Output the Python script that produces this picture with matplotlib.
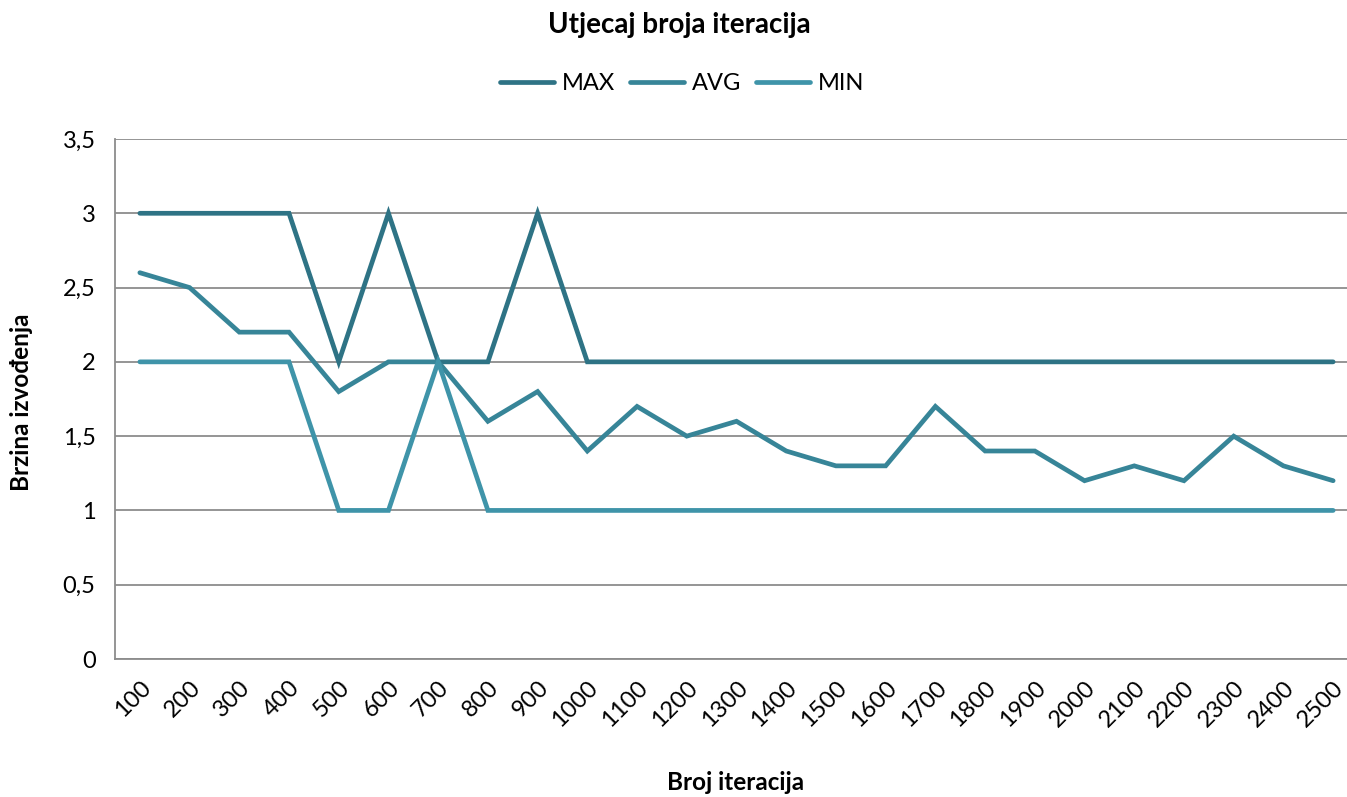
import matplotlib.pyplot as plt
from matplotlib.ticker import FuncFormatter

plt.rcParams['font.family'] = ['Lato', 'DejaVu Sans']

iterations = [100, 200, 300, 400, 500, 600, 700, 800, 900, 1000, 1100, 1200, 1300,
              1400, 1500, 1600, 1700, 1800, 1900, 2000, 2100, 2200, 2300, 2400, 2500]
max_vals = [3, 3, 3, 3, 2, 3, 2, 2, 3, 2, 2, 2, 2, 2, 2, 2, 2, 2, 2, 2, 2, 2, 2, 2, 2]
avg_vals = [2.6, 2.5, 2.2, 2.2, 1.8, 2, 2, 1.6, 1.8, 1.4, 1.7, 1.5, 1.6,
            1.4, 1.3, 1.3, 1.7, 1.4, 1.4, 1.2, 1.3, 1.2, 1.5, 1.3, 1.2]
min_vals = [2, 2, 2, 2, 1, 1, 2, 1, 1, 1, 1, 1, 1, 1, 1, 1, 1, 1, 1, 1, 1, 1, 1, 1, 1]

series = [('MAX', max_vals, '#2E7385'), ('AVG', avg_vals, '#378598'), ('MIN', min_vals, '#3F94A9')]

fig = plt.figure(figsize=(13.47, 7.97), dpi=100)
ax = fig.add_axes([115 / 1347, 1 - 659 / 797, (1358 - 115) / 1347, (659 - 139) / 797])

x = list(range(len(iterations)))
for name, vals, col in series:
    ax.plot(x, vals, color=col, lw=3.4, label=name, solid_capstyle='round', solid_joinstyle='miter')

ax.set_xlim(-0.5, len(iterations) - 0.5)
ax.set_ylim(0, 3.5)
ax.set_yticks([0, 0.5, 1, 1.5, 2, 2.5, 3, 3.5])
ax.yaxis.set_major_formatter(FuncFormatter(lambda v, p: f'{v:g}'.replace('.', ',')))
ax.set_xticks(x)
ax.set_xticklabels([str(i) for i in iterations], rotation=45, ha='right', va='top',
                   rotation_mode='anchor', fontsize=17)
ax.tick_params(axis='x', length=0, pad=13)
ax.tick_params(axis='y', length=0, pad=14, labelsize=17)
ax.grid(True, axis='y', color='#8c8c8c', lw=1.3)
ax.set_axisbelow(True)
for s in ['top', 'right']:
    ax.spines[s].set_visible(False)
for s in ['left', 'bottom']:
    ax.spines[s].set_color('#8c8c8c')
    ax.spines[s].set_linewidth(1.3)

fig.text(679 / 1347, 1 - 25 / 797, 'Utjecaj broja iteracija', ha='center', va='center',
         fontsize=20, fontweight='bold')
fig.text(22 / 1347, 1 - 402 / 797, 'Brzina izvođenja', ha='center', va='center',
         rotation=90, fontsize=17.5, fontweight='bold')
fig.text(736 / 1347, 1 - 782 / 797, 'Broj iteracija', ha='center', va='center',
         fontsize=17.5, fontweight='bold')

fig.legend(loc='center', bbox_to_anchor=(682 / 1347, 1 - 84 / 797), ncol=3, frameon=False,
           fontsize=17, handlelength=2.3, columnspacing=0.65, handletextpad=0.3)

fig.savefig('out.png', dpi=100)
